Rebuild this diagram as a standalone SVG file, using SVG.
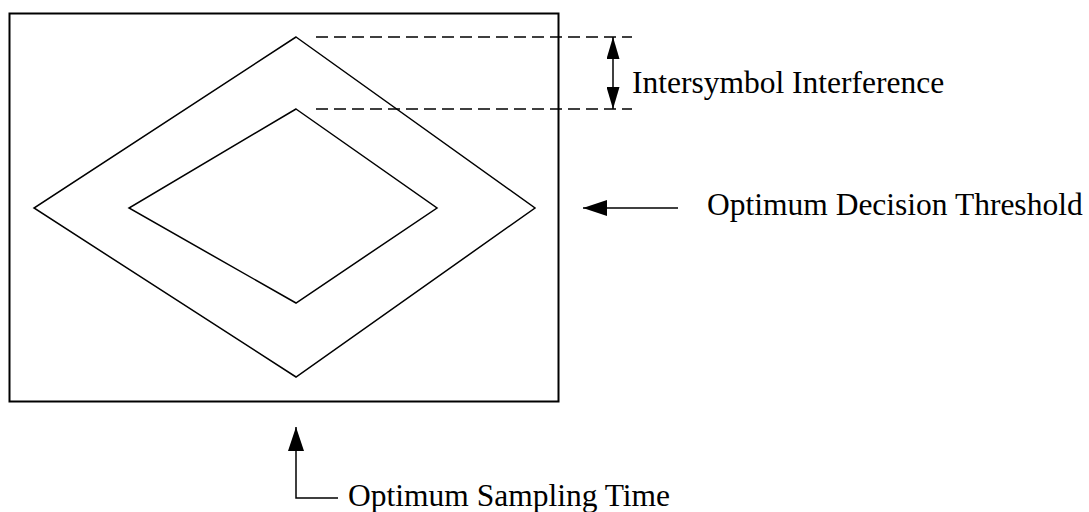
<svg xmlns="http://www.w3.org/2000/svg" width="1089" height="512" viewBox="0 0 1089 512">
<defs>
<style>
.ln{fill:none;stroke:#000;stroke-width:1.5}
.dash{fill:none;stroke:#000;stroke-width:1.5;stroke-dasharray:12 6}
.t{font-family:"Liberation Serif","Times New Roman",serif;font-size:31.5px;fill:#000}
</style>
<marker id="ah" viewBox="0 0 24 16" refX="24" refY="8" markerWidth="24" markerHeight="16" markerUnits="userSpaceOnUse" orient="auto-start-reverse">
<path d="M0,0 L24,8 L0,16 Z" fill="#000"/>
</marker>
<marker id="ahs" viewBox="0 0 22 13" refX="22" refY="6.5" markerWidth="22" markerHeight="13" markerUnits="userSpaceOnUse" orient="auto-start-reverse">
<path d="M0,0 L22,6.5 L0,13 Z" fill="#000"/>
</marker>
</defs>
<g id="frame"><rect x="9.5" y="13.5" width="549" height="388" fill="none" stroke="#000" stroke-width="2"/></g>
<g id="outer-eye"><polygon class="ln" points="296,37 535,208 296,377 34,208"/></g>
<g id="inner-eye"><polygon class="ln" points="296,109 437,208 296,303 129,208"/></g>
<g id="connectors">
<line class="dash" x1="316" y1="37" x2="632" y2="37"/>
<line class="dash" x1="316" y1="109" x2="632" y2="109"/>
<line class="ln" x1="613" y1="37" x2="613" y2="109" marker-start="url(#ahs)" marker-end="url(#ahs)"/>
<line class="ln" x1="678" y1="208" x2="583" y2="208" marker-end="url(#ah)"/>
<polyline class="ln" points="338,498 296,498 296,427" marker-end="url(#ah)"/>
</g>
<g id="label-isi"><text class="t" x="632" y="93">Intersymbol Interference</text></g>
<g id="label-threshold"><text class="t" x="707" y="215">Optimum Decision Threshold</text></g>
<g id="label-sampling"><text class="t" x="348" y="506">Optimum Sampling Time</text></g>
</svg>
